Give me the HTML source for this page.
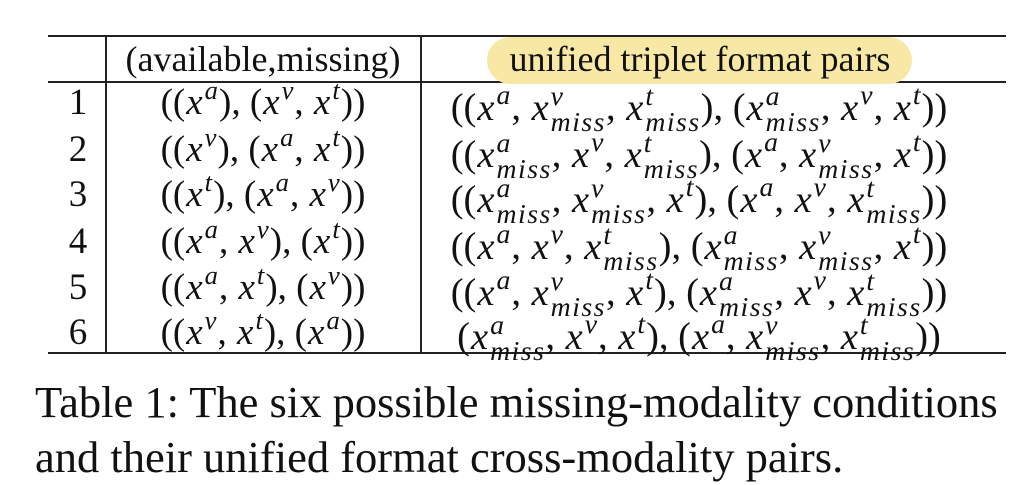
<!DOCTYPE html>
<html><head><style>
body{margin:0;width:1024px;height:485px;background:#fff;position:relative;overflow:hidden;font-family:"Liberation Serif",serif;color:#111}
.h{position:absolute;height:1.5px;background:#222}
.vl{position:absolute;width:1.5px;background:#222}
.c{position:absolute;white-space:nowrap;transform:translateX(-50%);font-size:37px;line-height:1}
.w{font-size:38.5px}
i{font-style:italic;padding:0 1px}
.s{display:inline-block;font-size:0.72em;line-height:0.95;vertical-align:-0.42em;font-style:italic;letter-spacing:1.5px;margin-left:1px}
.s span{display:block}
.p{font-size:0.72em;vertical-align:0.55em;font-style:italic;line-height:0;margin:0 1px}
.cap{position:absolute;left:35px;font-size:44.5px;line-height:1}
</style></head><body>
<div class="h" style="left:48px;width:958px;top:35px"></div>
<div class="h" style="left:48px;width:958px;top:81px"></div>
<div class="h" style="left:48px;width:958px;top:352px"></div>
<div class="vl" style="left:105px;top:35px;height:318px"></div>
<div class="vl" style="left:420px;top:35px;height:318px"></div>
<div style="position:absolute;left:487px;top:37px;width:425px;height:47px;border-radius:24px;background:#f8e8a6"></div>
<div class="c" style="left:263px;top:41px;font-size:36px">(available,missing)</div>
<div class="c" style="left:700px;top:41px;font-size:36px">unified triplet format pairs</div>

<div class="c" style="left:78px;top:84px">1</div>
<div class="c" style="left:78px;top:131px">2</div>
<div class="c" style="left:78px;top:176px">3</div>
<div class="c" style="left:78px;top:223px">4</div>
<div class="c" style="left:78px;top:269px">5</div>
<div class="c" style="left:78px;top:314px">6</div>

<div class="c" style="left:263px;top:84px">((<i>x</i><span class="p">a</span>), (<i>x</i><span class="p">v</span>, <i>x</i><span class="p">t</span>))</div>
<div class="c" style="left:263px;top:131px">((<i>x</i><span class="p">v</span>), (<i>x</i><span class="p">a</span>, <i>x</i><span class="p">t</span>))</div>
<div class="c" style="left:263px;top:176px">((<i>x</i><span class="p">t</span>), (<i>x</i><span class="p">a</span>, <i>x</i><span class="p">v</span>))</div>
<div class="c" style="left:263px;top:223px">((<i>x</i><span class="p">a</span>, <i>x</i><span class="p">v</span>), (<i>x</i><span class="p">t</span>))</div>
<div class="c" style="left:263px;top:269px">((<i>x</i><span class="p">a</span>, <i>x</i><span class="p">t</span>), (<i>x</i><span class="p">v</span>))</div>
<div class="c" style="left:263px;top:314px">((<i>x</i><span class="p">v</span>, <i>x</i><span class="p">t</span>), (<i>x</i><span class="p">a</span>))</div>

<div class="c w" style="left:699px;top:83px">((<i>x</i><span class="p">a</span>, <i>x</i><span class="s"><span>v</span><span>miss</span></span>, <i>x</i><span class="s"><span>t</span><span>miss</span></span>), (<i>x</i><span class="s"><span>a</span><span>miss</span></span>, <i>x</i><span class="p">v</span>, <i>x</i><span class="p">t</span>))</div>
<div class="c w" style="left:699px;top:130px">((<i>x</i><span class="s"><span>a</span><span>miss</span></span>, <i>x</i><span class="p">v</span>, <i>x</i><span class="s"><span>t</span><span>miss</span></span>), (<i>x</i><span class="p">a</span>, <i>x</i><span class="s"><span>v</span><span>miss</span></span>, <i>x</i><span class="p">t</span>))</div>
<div class="c w" style="left:699px;top:175px">((<i>x</i><span class="s"><span>a</span><span>miss</span></span>, <i>x</i><span class="s"><span>v</span><span>miss</span></span>, <i>x</i><span class="p">t</span>), (<i>x</i><span class="p">a</span>, <i>x</i><span class="p">v</span>, <i>x</i><span class="s"><span>t</span><span>miss</span></span>))</div>
<div class="c w" style="left:699px;top:222px">((<i>x</i><span class="p">a</span>, <i>x</i><span class="p">v</span>, <i>x</i><span class="s"><span>t</span><span>miss</span></span>), (<i>x</i><span class="s"><span>a</span><span>miss</span></span>, <i>x</i><span class="s"><span>v</span><span>miss</span></span>, <i>x</i><span class="p">t</span>))</div>
<div class="c w" style="left:699px;top:268px">((<i>x</i><span class="p">a</span>, <i>x</i><span class="s"><span>v</span><span>miss</span></span>, <i>x</i><span class="p">t</span>), (<i>x</i><span class="s"><span>a</span><span>miss</span></span>, <i>x</i><span class="p">v</span>, <i>x</i><span class="s"><span>t</span><span>miss</span></span>))</div>
<div class="c w" style="left:699px;top:312px">(<i>x</i><span class="s"><span>a</span><span>miss</span></span>, <i>x</i><span class="p">v</span>, <i>x</i><span class="p">t</span>), (<i>x</i><span class="p">a</span>, <i>x</i><span class="s"><span>v</span><span>miss</span></span>, <i>x</i><span class="s"><span>t</span><span>miss</span></span>))</div>

<div class="cap" style="top:380px">Table 1: The six possible missing-modality conditions</div>
<div class="cap" style="top:435px">and their unified format cross-modality pairs.</div>
</body></html>
